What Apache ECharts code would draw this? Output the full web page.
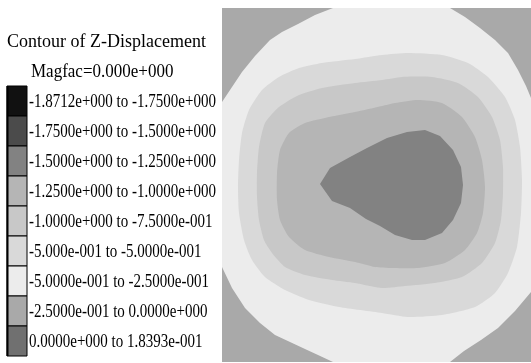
<!DOCTYPE html>
<html><head><meta charset="utf-8">
<script src="https://cdn.jsdelivr.net/npm/echarts@6/dist/echarts.min.js"></script>
<style>html,body{margin:0;padding:0;background:#fff}#c{width:531px;height:363px}</style>
</head><body><div id="c"></div>
<script>
const titleText = 'Contour of Z-Displacement';
const magfacText = 'Magfac=0.000e+000';
const levelLabels = [
  '-1.8712e+000 to -1.7500e+000',
  '-1.7500e+000 to -1.5000e+000',
  '-1.5000e+000 to -1.2500e+000',
  '-1.2500e+000 to -1.0000e+000',
  '-1.0000e+000 to -7.5000e-001',
  '-5.000e-001 to -5.0000e-001',
  '-5.0000e-001 to -2.5000e-001',
  '-2.5000e-001 to 0.0000e+000',
  '0.0000e+000 to 1.8393e-001'
];
const levelColors = ['#111111','#4b4b4b','#828282','#b5b5b5','#c8c8c8','#d9d9d9','#ececec','#a9a9a9','#707070'];

// plate extent (model units)
const plateX = [0, 309];
const plateY = [0, 354];

// contour regions: [x, y] vertices in plate units
const regionCorners = [[0,0],[309,0],[309,354],[0,354]];
const regionA = [[0,260],[0,95],[10,74],[23,54],[38,39],[53,27],[68,20],[83,13],[96,7],[111,0],[228,0],[242,11],[259,22],[276,34],[293,51],[309,70],[309,264],[304,276],[296,292],[286,309],[273,322],[258,334],[243,345],[228,354],[111,354],[93,347],[76,338],[60,330],[48,322],[33,306],[20,290],[10,275]];
const regionB = [[160,307],[186,309],[220,307],[246,299],[266,285],[283,265],[293,242],[298,215],[300,182],[299,149],[295,115],[286,89],[273,69],[253,55],[220,47],[186,45],[160,49],[117,55],[87,62],[63,72],[43,85],[30,102],[22,122],[17,149],[16,175],[17,202],[20,229],[27,252],[40,272],[57,285],[77,294],[100,299],[133,303]];
const regionC = [[160,282],[180,285],[210,285],[236,279],[256,265],[270,245],[278,222],[281,195],[281,169],[279,142],[273,119],[260,99],[240,85],[213,79],[183,76],[160,74],[133,79],[110,82],[83,87],[63,95],[50,109],[42,122],[37,142],[35,165],[35,189],[37,215],[43,239],[57,255],[77,267],[100,274],[133,279]];
const regionD = [[160,256],[173,259],[196,262],[220,259],[240,245],[253,225],[260,202],[263,175],[261,149],[255,129],[243,112],[223,99],[196,94],[170,94],[153,95],[133,100],[107,105],[83,112],[67,125],[58,142],[55,162],[55,189],[58,212],[67,229],[83,239],[107,245],[133,250]];
const regionE = [[98,178],[108,194],[128,205],[145,214],[165,224],[185,230],[203,232],[218,226],[231,212],[239,195],[241,177],[239,159],[231,142],[220,129],[203,122],[190,122],[173,127],[158,136],[144,143],[128,154],[110,161]];

const regions = [
  { level: 7, poly: regionCorners, smooth: 0 },
  { level: 6, poly: regionA, smooth: 0 },
  { level: 5, poly: regionB, smooth: 0.2 },
  { level: 4, poly: regionC, smooth: 0.2 },
  { level: 3, poly: regionD, smooth: 0.2 },
  { level: 2, poly: regionE, smooth: 0 }
];

const chart = echarts.init(document.getElementById('c'), null, { renderer: 'canvas' });
const font = '"Liberation Serif", "Times New Roman", serif';
const graphics = [
  { type: 'text', x: 7, y: 42, scaleY: 1.1, style: { text: titleText, font: '18px ' + font, fill: '#000', verticalAlign: 'middle' } },
  { type: 'text', x: 31, y: 72.5, scaleY: 1.05, style: { text: magfacText, font: '17px ' + font, fill: '#000', verticalAlign: 'middle' } }
];
levelLabels.forEach((lab, i) => {
  graphics.push({ type: 'rect', shape: { x: 7, y: 86 + 30 * i, width: 20, height: 30 }, style: { fill: levelColors[i], stroke: '#000', lineWidth: 1 } });
  graphics.push({ type: 'text', x: 29, y: 102 + 30 * i, scaleY: 1.2, style: { text: lab, font: '15px ' + font, fill: '#000', verticalAlign: 'middle' } });
});
graphics.push({ type: 'line', shape: { x1: 7.5, y1: 86, x2: 7.5, y2: 356 }, style: { stroke: '#000', lineWidth: 2 } });

chart.setOption({
  animation: false,
  backgroundColor: '#fff',
  grid: { left: 222, top: 8, width: 309, height: 354 },
  xAxis: { type: 'value', min: plateX[0], max: plateX[1], show: false },
  yAxis: { type: 'value', min: plateY[0], max: plateY[1], show: false },
  graphic: graphics,
  series: [{
    type: 'custom',
    coordinateSystem: 'cartesian2d',
    clip: true,
    silent: true,
    data: regions.map((r, i) => [i]),
    encode: { x: -1, y: -1 },
    renderItem: function (params, api) {
      const r = regions[params.dataIndex];
      return {
        type: 'polygon',
        shape: { points: r.poly.map(p => api.coord(p)), smooth: r.smooth },
        style: { fill: levelColors[r.level], stroke: null }
      };
    }
  }]
});
</script></body></html>
